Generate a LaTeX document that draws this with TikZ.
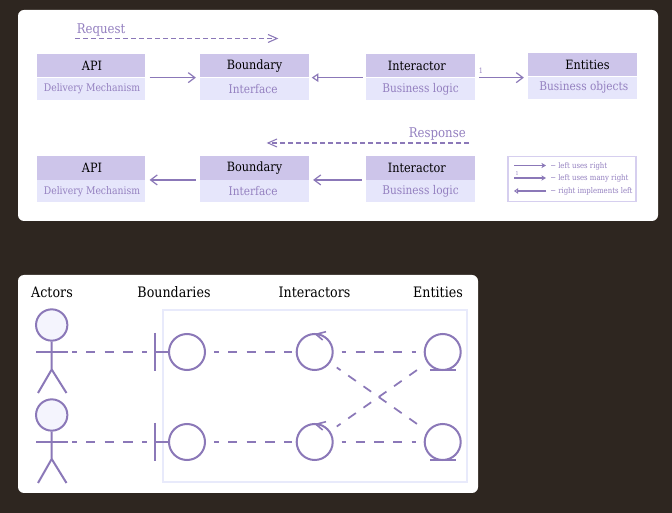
\documentclass[tikz,border=0pt]{standalone}
\usepackage{fontspec}
\setmainfont{DejaVu Serif}[FakeStretch=0.88]
\usetikzlibrary{arrows.meta}
\definecolor{bgdark}{HTML}{2E2620}
\definecolor{purp}{HTML}{8B78B8}
\definecolor{headc}{HTML}{CDC5EA}
\definecolor{subc}{HTML}{E6E6FB}
\definecolor{subtxt}{HTML}{9480C0}
\definecolor{framec}{HTML}{E8EAFB}
\definecolor{headfill}{HTML}{F4F4FD}
\definecolor{legb}{HTML}{D6CFEF}
\tikzset{
  x=0.75pt,y=-0.75pt,
  card/.style={fill=white,rounded corners=4.5pt},
  headbox/.style={fill=headc,inner sep=0pt,text=black,minimum width=81.5pt,minimum height=17.5pt,font=\fontsize{9.6}{11}\selectfont},
  subbox/.style={fill=subc,inner sep=0pt,text=subtxt,minimum width=81.5pt,minimum height=16.5pt,font=\fontsize{9}{10}\selectfont},
  subsmall/.style={subbox,font=\fontsize{7.9}{9}\selectfont},
  conn/.style={draw=purp,line width=1.1pt,shorten >=3pt,shorten <=3pt},
  uses/.style={conn,-{Straight Barb[length=5pt,width=7.5pt,line width=0.9pt]}},
  impl/.style={conn,shorten >=2pt,shorten <=2pt,{Triangle[open,length=5pt,width=6.5pt,line width=0.9pt]}-},
  flow/.style={draw=purp,line width=0.9pt,dash pattern=on 3.4pt off 2.6pt},
  lbl/.style={text=subtxt,inner sep=0pt,font=\fontsize{10}{12}\selectfont},
  ttl/.style={text=black,inner sep=0pt,font=\fontsize{10.8}{13}\selectfont},
  uml/.style={draw=purp,line width=1.5pt},
  dsh/.style={draw=purp,line width=1.5pt,dash pattern=on 7pt off 7pt,dash phase=3.5pt},
  ring/.style={circle,draw=purp,line width=1.5pt,minimum size=27pt,inner sep=0pt},
  legtxt/.style={text=subtxt,inner sep=0pt,anchor=west,font=\fontsize{5.9}{7}\selectfont},
  legln/.style={draw=purp,line width=0.9pt}
}
\begin{document}
\begin{tikzpicture}
\useasboundingbox (0,0) rectangle (672,513);
\fill[bgdark] (0,0) rectangle (672,513);
\fill[card] (18,10) rectangle (658,221);
\fill[card] (18,275) rectangle (478,493);
% top row
\node[headbox] (api1) at (91,65.7) {\hspace*{1.5pt}API};
\node[subsmall,anchor=north] (api1s) at (api1.south) {\hspace*{1.5pt}Delivery Mechanism};
\node[headbox] (bnd1) at (254.5,65.7) {Boundary};
\node[subbox,anchor=north] (bnd1s) at (bnd1.south) {Interface\hspace*{2pt}};
\node[headbox] (int1) at (420.5,65.7) {Interactor\hspace*{5.5pt}};
\node[subbox,anchor=north] (int1s) at (int1.south) {Business logic};
\node[headbox] (ent1) at (582.5,64.5) {\hspace*{7.5pt}Entities};
\node[subbox,anchor=north] (ent1s) at (ent1.south) {\hspace*{2pt}Business objects};
\draw[uses] (api1.south east) -- (bnd1.south west);
\draw[impl] (bnd1.south east) -- (int1.south west);
\draw[uses] (int1.south east) -- (int1.south east -| ent1.west);
\node[inner sep=0pt,text=subtxt,font=\fontsize{5.5}{6}\selectfont] (one) at (481,71) {1};
\coordinate (rqa) at (75,38.5);
\coordinate (rqb) at (277,38.5);
\draw[flow] (rqa) -- (rqb);
\draw[draw=purp,line width=0.8pt] (268,34.5) -- (277,38.5) -- (268,42.5);
\node[lbl,anchor=west] (req) at (76.5,30) {Request};
% bottom row
\node[headbox] (api2) at (91,168) {\hspace*{1.5pt}API};
\node[subsmall,anchor=north] (api2s) at (api2.south) {\hspace*{1.5pt}Delivery Mechanism};
\node[headbox] (bnd2) at (254.5,168) {Boundary};
\node[subbox,anchor=north] (bnd2s) at (bnd2.south) {Interface\hspace*{2pt}};
\node[headbox] (int2) at (420.5,168) {Interactor\hspace*{5.5pt}};
\node[subbox,anchor=north] (int2s) at (int2.south) {Business logic};
\draw[uses] (bnd2.south west) -- (api2.south east);
\draw[uses] (int2.south west) -- (bnd2.south east);
\coordinate (rsa) at (469,143);
\coordinate (rsb) at (268,143);
\draw[flow] (rsa) -- (rsb);
\draw[draw=purp,line width=0.8pt] (277,139) -- (268,143) -- (277,147);
\node[lbl,anchor=east] (resp) at (466,134.5) {Response};
% legend
\node[draw=legb,line width=1.1pt,minimum width=96pt,minimum height=34pt,inner sep=0pt] (leg) at (572.2,179) {};
\coordinate (l1a) at (514,165.5); \coordinate (l1b) at (546,165.5);
\coordinate (l2a) at (514,178); \coordinate (l2b) at (546,178);
\coordinate (l3a) at (546,191); \coordinate (l3b) at (514,191);
\draw[legln,-{Stealth[length=3.5pt,width=4pt]}] (l1a) -- (l1b);
\draw[legln,-{Stealth[length=3.5pt,width=4pt]}] (l2a) -- (l2b);
\draw[legln,-{Triangle[open,length=3pt,width=4pt,line width=0.8pt]}] (l3a) -- (l3b);
\node[inner sep=0pt,text=subtxt,font=\fontsize{4}{5}\selectfont] (one2) at (517,174) {1};
\node[legtxt] (t1) at (550,166) {− left uses right};
\node[legtxt] (t2) at (550,178.5) {− left uses many right};
\node[legtxt] (t3) at (550,191) {− right implements left};
% lower card
\draw[framec,line width=1.5pt] (163,310) rectangle (467,482);
\node[ttl] (ta) at (52,292.5) {Actors};
\node[ttl] (tb) at (174,292.5) {Boundaries};
\node[ttl] (ti) at (314.5,292.5) {Interactors};
\node[ttl] (te) at (438,292.5) {Entities};
% row 1
\node[ring,fill=headfill,minimum size=23.5pt] (h1) at (51.7,325) {};
\coordinate (a1) at (68,352);
\draw[uml] (h1.south) -- (51.7,369.5) -- (38,393);
\draw[uml] (51.7,369.5) -- (66.5,393);
\draw[uml] (36,352) -- (a1);
\node[ring] (b1) at (187,352) {};
\coordinate (bar1) at (155,352);
\draw[uml] (155,333) -- (155,371);
\draw[uml] (bar1) -- (b1);
\node[ring] (i1) at (314.7,352) {};
\draw[uml,line width=1.2pt] (326,331.7) -- (316,334.3) -- (322.7,340);
\node[ring] (e1) at (442.7,352) {};
\draw[uml] (430,370) -- (456,370);
% row 2
\node[ring,fill=headfill,minimum size=23.5pt] (h2) at (51.7,415) {};
\coordinate (a2) at (68,442);
\draw[uml] (h2.south) -- (51.7,459) -- (38,483);
\draw[uml] (51.7,459) -- (66.5,483);
\draw[uml] (36,442) -- (a2);
\node[ring] (b2) at (187,442) {};
\coordinate (bar2) at (155,442);
\draw[uml] (155,423) -- (155,461);
\draw[uml] (bar2) -- (b2);
\node[ring] (i2) at (314.7,442) {};
\draw[uml,line width=1.2pt] (326,421.7) -- (316,424.3) -- (322.7,430);
\node[ring] (e2) at (442.7,442) {};
\draw[uml] (430,460) -- (456,460);
% dashed
\draw[dsh,shorten <=3pt,shorten >=6pt] (a1) -- (bar1);
\draw[dsh,shorten <=3pt,shorten >=6pt] (a2) -- (bar2);
\draw[dsh,shorten <=6pt,shorten >=3pt] (b1) -- (i1);
\draw[dsh,shorten <=6pt,shorten >=3pt] (b2) -- (i2);
\draw[dsh,shorten <=6pt,shorten >=6pt] (i1) -- (e1);
\draw[dsh,shorten <=6pt,shorten >=6pt] (i2) -- (e2);
\draw[dsh,line width=1.3pt,shorten <=6pt,shorten >=6pt] (i1) -- (e2);
\draw[dsh,line width=1.3pt,shorten <=6pt,shorten >=6pt] (i2) -- (e1);
\end{tikzpicture}
\end{document}
